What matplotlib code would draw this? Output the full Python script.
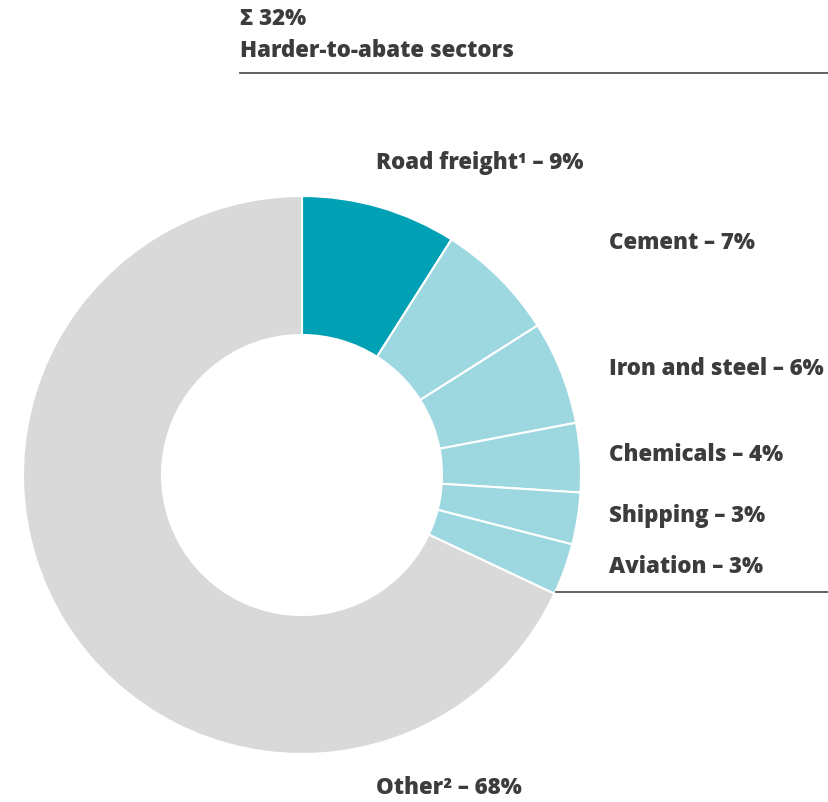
import matplotlib.pyplot as plt

# Daten
sektoren = ['Road freight\u00b9', 'Cement', 'Iron and steel', 'Chemicals', 'Shipping', 'Aviation', 'Other\u00b2']
anteile = [9, 7, 6, 4, 3, 3, 68]
farben = ['#00a0b5', '#9dd8e1', '#9dd8e1', '#9dd8e1', '#9dd8e1', '#9dd8e1', '#d9d9d9']
summe_label = '\u03a3 32%'
gruppe_label = 'Harder-to-abate sectors'

W, H = 829, 803
plt.rcParams['font.family'] = ['Open Sans', 'DejaVu Sans']
farbe_text = '#3c3c3c'

fig = plt.figure(figsize=(W / 100, H / 100), dpi=100)
ax = fig.add_axes([0, 0, 1, 1])

# Donut
ax.pie(anteile, colors=farben, startangle=90, counterclock=False,
       center=(302, H - 476), radius=279, frame=True,
       wedgeprops=dict(width=139, edgecolor='white', linewidth=1.5))
ax.set_xlim(0, W)
ax.set_ylim(0, H)
ax.set_aspect('equal')
ax.axis('off')

def txt(x, y, s):
    ax.text(x, H - y, s, fontsize=16, fontweight=800, color=farbe_text,
            ha='left', va='center')

txt(240, 19, summe_label)
txt(240, 51, gruppe_label)
ax.plot([240, W], [H - 74, H - 74], color='#555555', lw=1.3)

pos = [(376, 163), (609, 243), (609, 369), (609, 455), (609, 516), (609, 567), (376, 788)]
for name, wert, (x, y) in zip(sektoren, anteile, pos):
    txt(x, y, f'{name} \u2013 {wert}%')

ax.plot([556, W], [H - 593, H - 593], color='#555555', lw=1.3)

fig.savefig('out.png', dpi=100)
